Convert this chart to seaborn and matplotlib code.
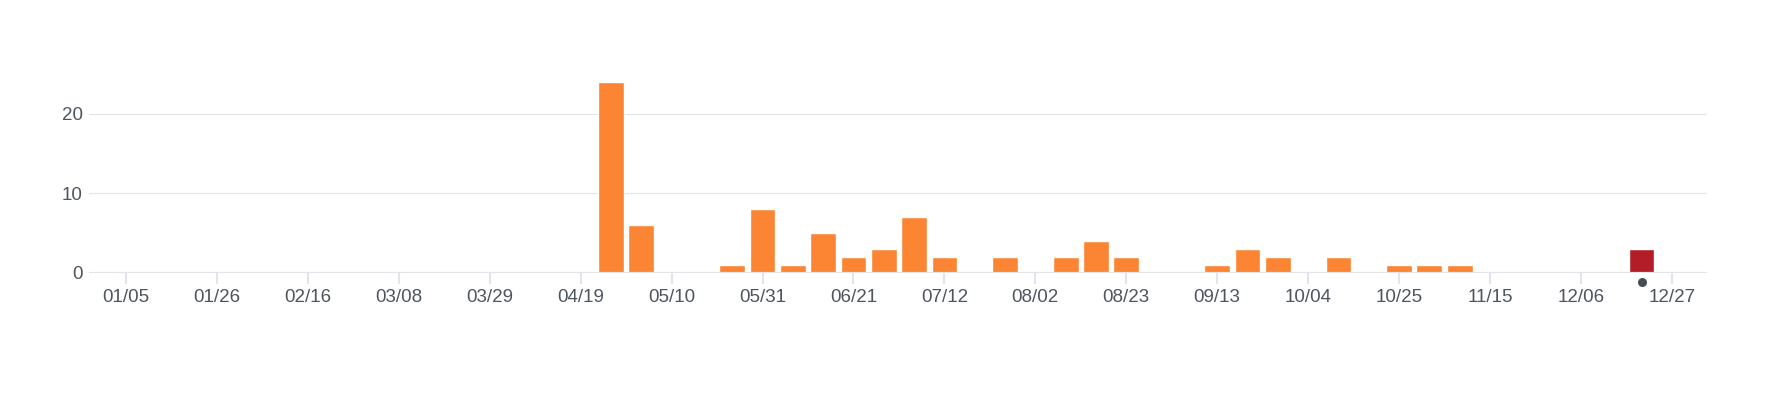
import numpy as np
import pandas as pd
import matplotlib.pyplot as plt
import seaborn as sns

# weekly counts, week starting 01/05 (52 weeks)
weeks = pd.date_range('2020-01-05', periods=52, freq='7D').strftime('%m/%d').tolist()
counts = [0, 0, 0, 0, 0, 0, 0, 0, 0, 0,
          0, 0, 0, 0, 0, 0, 24, 6, 0, 0,
          1, 8, 1, 5, 2, 3, 7, 2, 0, 2,
          0, 2, 4, 2, 0, 0, 1, 3, 2, 0,
          2, 0, 1, 1, 1, 0, 0, 0, 0, 0,
          3, 0]
current_week = '12/20'

orange = '#fb8532'
red = '#b31d28'
grid_col = '#e1e4e8'
text_col = '#4d555e'

df = pd.DataFrame({'week': weeks, 'count': counts})
df['kind'] = np.where(df['week'] == current_week, 'current', 'past')

sns.set_style('white')
plt.rcParams['font.family'] = ['Liberation Sans', 'DejaVu Sans']

fig = plt.figure(figsize=(17.7, 4.08), dpi=100)
ax = fig.add_axes([0.0503, 0.332, 0.9141, 0.506])

sns.barplot(data=df, x='week', y='count', hue='kind', order=weeks,
            palette={'past': orange, 'current': red}, dodge=False,
            width=0.85, legend=False, ax=ax, saturation=1)

ax.set_xlim(-1.22, 52.16)
ax.set_ylim(0, 26)

# gridlines
ax.set_yticks([0, 10, 20])
for y in [10, 20]:
    ax.axhline(y, color=grid_col, lw=0.8, zorder=0)
ax.axhline(0, color=grid_col, lw=1.6, zorder=3)

tick_pos = list(range(0, 52, 3))
ax.set_xticks(tick_pos)
ax.set_xticklabels([weeks[i] for i in tick_pos])
ax.tick_params(axis='x', bottom=True, length=8, width=1.5, color=grid_col, pad=4,
               labelsize=13.5, labelcolor=text_col)
ax.tick_params(axis='y', left=False, length=0, pad=4.5, labelsize=13.5, labelcolor=text_col)

for s in ax.spines.values():
    s.set_visible(False)
ax.set_xlabel('')
ax.set_ylabel('')

# marker under the current week
cur_idx = weeks.index(current_week)
ax.scatter([cur_idx], [-1.2], s=30, color='#444d56', clip_on=False, zorder=5)

fig.savefig('out.png', dpi=100, facecolor='white')
